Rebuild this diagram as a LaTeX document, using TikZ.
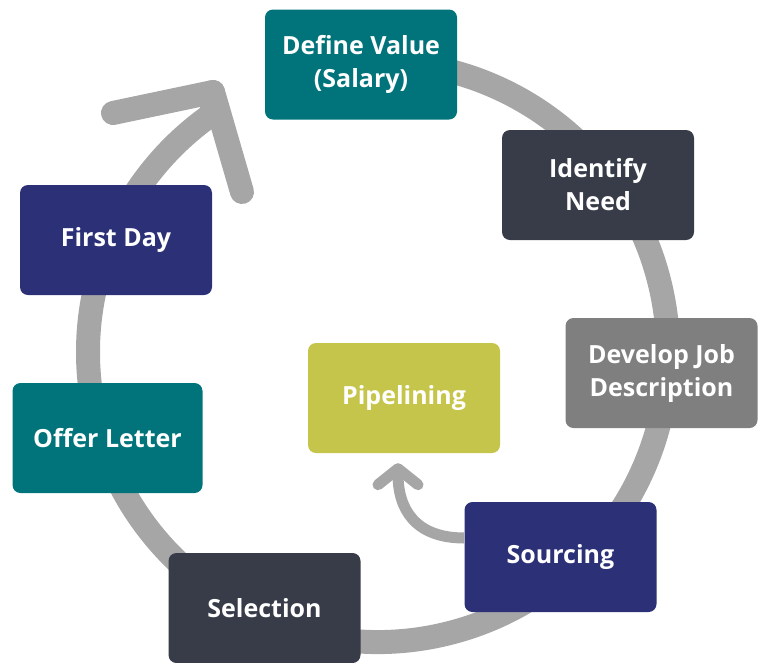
\documentclass[tikz,border=0pt]{standalone}
\usepackage{fontspec}
\setmainfont{Open Sans}
\usetikzlibrary{arrows.meta}
\definecolor{hireteal}{HTML}{00747A}
\definecolor{hireslate}{HTML}{373C48}
\definecolor{hiregray}{HTML}{7F7F7F}
\definecolor{hirenavy}{HTML}{2B3077}
\definecolor{hireolive}{HTML}{C6C54B}
\definecolor{ringgray}{HTML}{A6A6A6}

\begin{document}
\begin{tikzpicture}[x=1pt, y=-1pt,
		stage/.style={rectangle, rounded corners=8pt, minimum width=192pt, minimum height=110pt,
			inner sep=0pt, text=white, align=center, font=\fontsize{25}{33}\selectfont\bfseries},
		ring/.style={line width=24pt, color=ringgray, line cap=round, line join=round},
		pipe/.style={line width=11pt, color=ringgray, -{Straight Barb[length=16pt, width=40pt, round]}}]
		%%%%% START %%%%%
		
		\useasboundingbox (0, 0) rectangle (760, 662);
		
		\coordinate (hub) at (378, 352);
		\coordinate (tip) at (213, 92);
		\draw[ring] ([shift={(-105:290)}]hub) arc (-105:235:290) -- (tip);
		\draw[ring] (113, 113) -- (tip) -- (242, 192);
		
		\node[stage, fill=hireteal] (define) at (361, 64.5) {Define Value\\(Salary)};
		\node[stage, fill=hireslate] (identify) at (598, 185) {Identify\\Need};
		\node[stage, fill=hiregray] (develop) at (661.5, 373) {Develop Job\\Description};
		\node[stage, fill=hirenavy] (sourcing) at (560.5, 557) {Sourcing};
		\node[stage, fill=hireslate] (selection) at (264.5, 608) {Selection};
		\node[stage, fill=hireteal, minimum width=190pt] (offer) at (107.5, 438) {Offer Letter};
		\node[stage, fill=hirenavy] (firstday) at (116, 240) {First Day};
		
		\node[stage, fill=hireolive] (pipelining) at (404, 398) {Pipelining};
		
		\draw[pipe] ([yshift=19pt]sourcing.west) .. controls +(-50, 0) and +(0, 45) .. ([xshift=-6pt, yshift=-10pt]pipelining.south);
		
		%%%%% END %%%%%
	\end{tikzpicture}
\end{document}
